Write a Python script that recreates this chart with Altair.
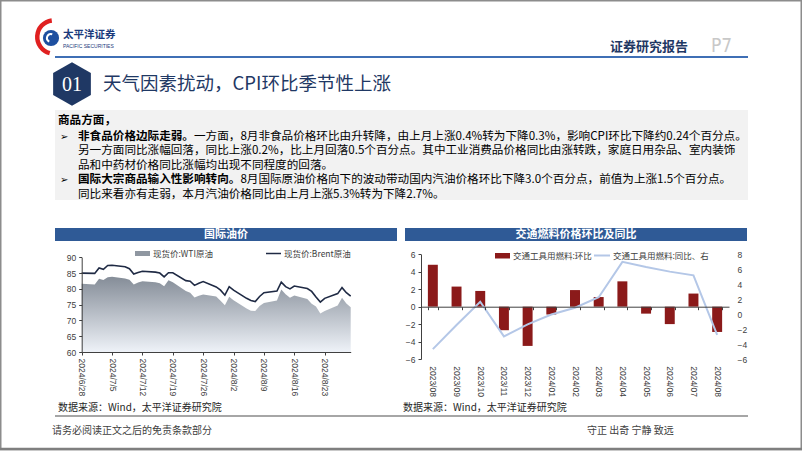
import altair as alt
import pandas as pd

FONT = "Noto Sans CJK SC"
AXFONT = "Liberation Sans"

# ---------------- data ----------------
oil_dates = ["2024/06/28", "2024/07/01", "2024/07/02", "2024/07/03", "2024/07/04", "2024/07/05",
             "2024/07/08", "2024/07/09", "2024/07/10", "2024/07/11", "2024/07/12",
             "2024/07/15", "2024/07/16", "2024/07/17", "2024/07/18", "2024/07/19",
             "2024/07/22", "2024/07/23", "2024/07/24", "2024/07/25", "2024/07/26",
             "2024/07/29", "2024/07/30", "2024/07/31", "2024/08/01", "2024/08/02",
             "2024/08/05", "2024/08/06", "2024/08/07", "2024/08/08", "2024/08/09",
             "2024/08/12", "2024/08/13", "2024/08/14", "2024/08/15", "2024/08/16",
             "2024/08/19", "2024/08/20", "2024/08/21", "2024/08/22", "2024/08/23",
             "2024/08/26", "2024/08/27", "2024/08/28", "2024/08/29"]
brent = [85.0, 84.9, 86.6, 86.2, 87.4, 87.5,
         87.0, 86.4, 84.7, 85.2, 85.6,
         85.3, 85.0, 83.8, 85.1, 85.1,
         82.6, 82.4, 81.1, 81.8, 82.3,
         80.6, 79.6, 78.0, 80.7, 79.6,
         77.0, 76.3, 76.0, 77.6, 78.8,
         79.3, 82.1, 80.7, 80.0, 80.9,
         80.1, 79.2, 77.4, 75.8, 77.0,
         78.5, 80.4, 78.8, 77.7]
wti = [81.6, 81.4, 83.2, 82.8, 83.7, 83.8,
       83.3, 82.9, 81.4, 82.0, 82.4,
       82.1, 81.8, 80.8, 82.7, 82.1,
       79.3, 78.8, 77.3, 77.8, 78.2,
       77.6, 76.2, 74.8, 77.5, 76.4,
       73.8, 73.1, 73.0, 74.6, 75.5,
       76.3, 79.8, 78.3, 77.2, 77.9,
       76.8, 75.3, 74.4, 72.2, 73.0,
       74.7, 77.2, 75.4, 74.2]
oil_ticks = [(2024, 6, 28), (2024, 7, 5), (2024, 7, 12), (2024, 7, 19), (2024, 7, 26),
             (2024, 8, 2), (2024, 8, 9), (2024, 8, 16), (2024, 8, 23)]
oil_y_ticks = [60, 65, 70, 75, 80, 85, 90]

fuel_months = ["2023/08", "2023/09", "2023/10", "2023/11", "2023/12", "2024/01", "2024/02",
               "2024/03", "2024/04", "2024/05", "2024/06", "2024/07", "2024/08"]
fuel_mom = [4.8, 2.3, 1.8, -2.7, -4.5, -0.9, 1.9, 1.1, 2.9, -0.8, -2.0, 1.5, -2.9]
fuel_yoy = [-4.6, -1.4, 1.7, -2.9, -1.3, 0.0, 0.9, 2.3, 7.0, 6.3, 5.7, 5.2, -2.7]
mom_ticks = [-6, -4, -2, 0, 2, 4, 6]
yoy_ticks = [-6, -4, -2, 0, 2, 4, 6, 8]

body_lines = [
    "商品方面，",
    "一方面，8月非食品价格环比由升转降，由上月上涨0.4%转为下降0.3%，影响CPI环比下降约0.24个百分点。",
    "另一方面同比涨幅回落，同比上涨0.2%，比上月回落0.5个百分点。其中工业消费品价格同比由涨转跌，家庭日用杂品、室内装饰",
    "品和中药材价格同比涨幅均出现不同程度的回落。",
    "8月国际原油价格向下的波动带动国内汽油价格环比下降3.0个百分点，前值为上涨1.5个百分点。",
    "同比来看亦有走弱，本月汽油价格同比由上月上涨5.3%转为下降2.7%。",
]
body_bold = ["非食品价格边际走弱。", "国际大宗商品输入性影响转向。"]

one = pd.DataFrame({"k": [0]})


def txt(s, x, y, size=11.0, color="#000000", weight="normal", align="left", font=FONT, baseline="middle"):
    return alt.Chart(one).mark_text(
        text=s, fontSize=size, color=color, fontWeight=weight, align=align,
        baseline=baseline, font=font
    ).encode(x=alt.value(x), y=alt.value(y))


def rect(x, x2, y, y2, color, **kw):
    return alt.Chart(one).mark_rect(color=color, **kw).encode(
        x=alt.value(x), x2=alt.value(x2), y=alt.value(y), y2=alt.value(y2))


def hrule(x, x2, y, color, width=1.0):
    return alt.Chart(one).mark_rule(color=color, strokeWidth=width).encode(
        x=alt.value(x), x2=alt.value(x2), y=alt.value(y))


layers = []

# ---------------- page decoration ----------------
layers.append(rect(0.75, 801.25, 0.75, 449.5, "white", fillOpacity=0, stroke="#8c8c8c", strokeWidth=1.5))
# logo
layers.append(alt.Chart(one).mark_arc(color="#e02020", radius=19, radius2=14.5,
                                      theta=3.4, theta2=6.15).encode(x=alt.value(54), y=alt.value(37)))
layers.append(alt.Chart(one).mark_point(shape="circle", filled=True, size=260, color="#1d4fa0",
                                        opacity=1).encode(x=alt.value(51), y=alt.value(38)))
layers.append(alt.Chart(one).mark_arc(color="white", radius=5, radius2=3,
                                      theta=3.6, theta2=6.6).encode(x=alt.value(51), y=alt.value(38)))
layers.append(txt("太平洋证券", 63, 35, size=10.5, color="#1a3a7c", weight="bold"))
layers.append(txt("PACIFIC SECURITIES", 63, 45.5, size=5, color="#1a3a7c", font=AXFONT))
layers.append(txt("证券研究报告", 610, 47, size=13, color="#1f3864", weight="bold"))
layers.append(txt("P7", 711, 46, size=19, color="#c8c8c8",
                  font="Liberation Sans Narrow, DejaVu Sans Condensed, Liberation Sans"))
layers.append(hrule(55, 748, 57, "#3f6fb5", 1.8))

# section badge + title
layers.append(alt.Chart(one).mark_point(
    shape="M0,-1L0.866,-0.5L0.866,0.5L0,1L-0.866,0.5L-0.866,-0.5Z",
    filled=True, size=1900, color="#1f3864", opacity=1).encode(x=alt.value(72), y=alt.value(84)))
layers.append(txt("01", 72, 85, size=20, color="white", font="Liberation Serif", align="center"))
layers.append(txt("天气因素扰动，CPI环比季节性上涨", 103, 84, size=18.5, color="#1f3864"))

# grey text box
layers.append(rect(55, 748, 110, 200, "#f2f2f2"))
BS = 11.6
ys = [121, 136.5, 151, 165.5, 180, 194.5]
layers.append(txt(body_lines[0], 58, ys[0], size=BS, weight="bold"))
layers.append(txt("➢", 60, ys[1], size=10, font="DejaVu Sans"))
layers.append(txt(body_bold[0], 78, ys[1], size=BS, weight="bold"))
layers.append(txt(body_lines[1], 78 + BS * len(body_bold[0]), ys[1], size=BS))
layers.append(txt(body_lines[2], 78, ys[2], size=BS))
layers.append(txt(body_lines[3], 78, ys[3], size=BS))
layers.append(txt("➢", 60, ys[4], size=10, font="DejaVu Sans"))
layers.append(txt(body_bold[1], 78, ys[4], size=BS, weight="bold"))
layers.append(txt(body_lines[4], 78 + BS * len(body_bold[1]), ys[4], size=BS))
layers.append(txt(body_lines[5], 78, ys[5], size=BS))

# chart title bars
layers.append(rect(55, 397, 228, 241, "#2f5a96"))
layers.append(txt("国际油价", 226, 234.5, size=11, color="white", weight="bold", align="center"))
layers.append(rect(405, 747, 228, 241, "#2f5a96"))
layers.append(txt("交通燃料价格环比及同比", 576, 234.5, size=11, color="white", weight="bold", align="center"))

# legends
grad = alt.Gradient(gradient="linear", x1=0, x2=0, y1=0, y2=1,
                    stops=[alt.GradientStop(color="#858d98", offset=0),
                           alt.GradientStop(color="#eef2f8", offset=1)])
layers.append(rect(135, 150, 251, 256, "#8f97a1"))
layers.append(txt("现货价:WTI原油", 153, 253.5, size=8.5, color="#404040"))
layers.append(hrule(266, 281, 253.5, "#1f2a44", 1.5))
layers.append(txt("现货价:Brent原油", 284, 253.5, size=8.5, color="#404040"))
layers.append(rect(495, 510, 253, 258.5, "#8b1a1a"))
layers.append(txt("交通工具用燃料:环比", 513, 255.5, size=8.5, color="#404040"))
layers.append(hrule(594, 610, 255.5, "#b4c7e7", 2))
layers.append(txt("交通工具用燃料:同比、右", 613, 255.5, size=8.5, color="#404040"))

# footer
layers.append(txt("数据来源：Wind，太平洋证券研究院", 58, 408, size=10, color="#262626"))
layers.append(txt("数据来源：Wind，太平洋证券研究院", 403, 408, size=10, color="#262626"))
layers.append(hrule(55, 748, 416, "#a6a6a6", 2))
layers.append(txt("请务必阅读正文之后的免责条款部分", 52, 431, size=10, color="#404040"))
layers.append(txt("守正 出奇 宁静 致远", 587, 431, size=10, color="#404040"))
layers.append(hrule(0, 802, 449, "#7f7f7f", 2.5))

# ---------------- left chart: oil prices ----------------
oil = pd.DataFrame({"date": oil_dates, "brent": brent, "wti": wti})
ax_common = dict(labelFont=AXFONT, labelFontSize=8.5, labelColor="#404040",
                 domainColor="#404040", tickColor="#404040", tickSize=3, grid=False, zindex=2)
x_oil = alt.X("date:T", title=None,
              scale=alt.Scale(range=[81.7, 350.7], nice=False),
              axis=alt.Axis(orient="bottom", offset=-99,
                            values=[alt.DateTime(year=a, month=b, date=c) for a, b, c in oil_ticks],
                            format="%Y/%-m/%-d", labelAngle=90, labelPadding=3, **ax_common))
y_oil_scale = alt.Scale(domain=[60, 90], range=[352, 257.3], nice=False, zero=False)
area = alt.Chart(oil).mark_area(color=grad, line=False).encode(
    x=x_oil,
    y=alt.Y("wti:Q", title=None, scale=y_oil_scale,
            axis=alt.Axis(orient="left", offset=-81.7, values=oil_y_ticks, labelPadding=3, **ax_common)),
    y2=alt.datum(60))
bline = alt.Chart(oil).mark_line(color="#1f2a44", strokeWidth=1.6).encode(
    x=alt.X("date:T"), y=alt.Y("brent:Q"))
oil_chart = alt.layer(area, bline)

# ---------------- right chart: fuel prices ----------------
fuel = pd.DataFrame({"month": fuel_months, "mom": fuel_mom, "yoy": fuel_yoy})
x_fuel = alt.X("month:N", title=None, sort=fuel_months,
               scale=alt.Scale(domain=fuel_months, range=[421, 729], paddingInner=0.58, paddingOuter=0.29),
               axis=alt.Axis(orient="bottom", offset=-144.3, labelAngle=90, labelPadding=56,
                             tickBand="extent", **ax_common))
bars = alt.Chart(fuel).mark_bar(color="#8b1a1a").encode(
    x=x_fuel,
    y=alt.Y("mom:Q", title=None, scale=alt.Scale(domain=[-6, 6], range=[359, 254.3], nice=False),
            axis=alt.Axis(orient="left", offset=-421, values=mom_ticks, labelPadding=3, **ax_common)))
yline = alt.Chart(fuel).mark_line(color="#b4c7e7", strokeWidth=2).encode(
    x=alt.X("month:N", sort=fuel_months),
    y=alt.Y("yoy:Q", title=None, scale=alt.Scale(domain=[-6, 8], range=[359.7, 254.3], nice=False),
            axis=alt.Axis(orient="right", offset=-73, values=yoy_ticks, domain=False, ticks=False,
                          labelPadding=8, labelFont=AXFONT, labelFontSize=8.5, labelColor="#404040",
                          grid=False, zindex=2)))
fuel_chart = alt.layer(bars, yline).resolve_scale(y="independent")

chart = alt.layer(*layers, oil_chart, fuel_chart).resolve_scale(
    x="independent", y="independent"
).properties(
    width=802, height=451, padding=0, autosize="none", background="white"
).configure_view(stroke=None)

chart.save("out.html", embed_options={"renderer": "svg", "actions": False})
